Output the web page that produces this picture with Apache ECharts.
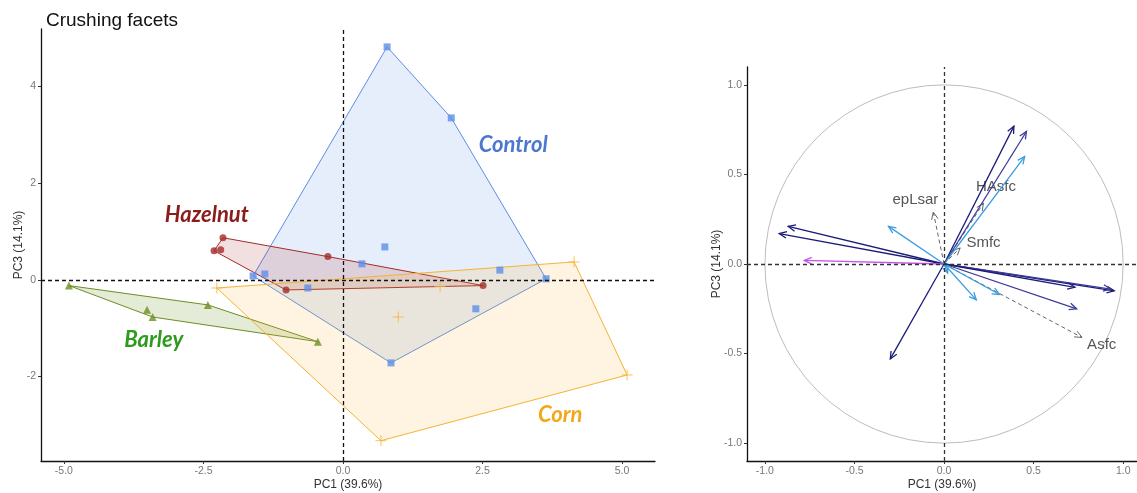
<!DOCTYPE html>
<html>
<head>
<meta charset="utf-8">
<script src="https://cdn.jsdelivr.net/npm/echarts@6/dist/echarts.min.js"></script>
<style>
html,body{margin:0;padding:0;background:#fff;}
#main{width:1137px;height:493px;}
</style>
</head>
<body>
<div id="main"></div>
<script>
'use strict';
// individuals, [PC1, PC3]
var controlPts = [[0.79,4.82],[1.94,3.35],[0.75,0.68],[0.34,0.33],[-1.61,0.08],[-1.40,0.12],[-0.63,-0.17],[2.81,0.20],[2.38,-0.60],[3.64,0.02],[0.86,-1.72]];
var hazelnutPts = [[-2.15,0.87],[-2.31,0.60],[-2.19,0.62],[-0.27,0.48],[-1.02,-0.21],[2.51,-0.12]];
var barleyPts = [[-4.91,-0.12],[-3.51,-0.62],[-3.41,-0.77],[-2.42,-0.52],[-0.45,-1.28]];
var cornPts = [[-2.26,-0.17],[4.14,0.37],[5.09,-1.97],[0.68,-3.33],[1.74,-0.14],[0.99,-0.77]];
var groupNames = ['Control','Hazelnut','Barley','Corn'];
var groupLabelPos = [[3.05,2.80],[-2.44,1.35],[-3.39,-1.24],[3.89,-2.80]];

// variables (correlation circle)
var varPC1 = [-0.87,-0.92,0.39,0.46,0.95,0.93,0.73,0.74,-0.30,0.45,-0.31,0.18,0.31,0.02,-0.78];
var varPC3 = [0.21,0.17,0.77,0.74,-0.15,-0.14,-0.13,-0.25,-0.53,0.60,0.21,-0.20,-0.17,-0.05,0.02];
var varKind = [0,0,0,1,0,1,0,1,0,2,2,2,2,2,3];
// supplementary variables (dashed)
var supNames = ['epLsar','HAsfc','Smfc','Asfc'];
var supPC1 = [-0.06,0.22,0.09,0.77];
var supPC3 = [0.29,0.34,0.09,-0.41];
var supLabelPC1 = [-0.16,0.29,0.22,0.88];
var supLabelPC3 = [0.36,0.43,0.12,-0.45];

var leftXTicks = [-5,-2.5,0,2.5,5];
var leftYTicks = [-2,0,2,4];
var rightTicks = [-1,-0.5,0,0.5,1];

var groupColors = ['#5b8ee6','#a52a2a','#6b8e23','#f5b335'];
var groupFills = ['rgba(91,142,230,0.15)','rgba(165,42,42,0.15)','rgba(107,142,35,0.18)','rgba(245,179,53,0.15)'];
var labelColors = ['#4a78d0','#8c1c1c','#2e9b1e','#f0a818'];
var kindColors = ['#1c1c78','#3c3c98','#3a9de0','#c452ec'];
var plusPath = 'path://M5,0L5,10M0,5L10,5';

function hull(pts) {
    var p = pts.slice().sort(function (a, b) { return a[0] - b[0] || a[1] - b[1]; });
    function cross(o, a, b) { return (a[0] - o[0]) * (b[1] - o[1]) - (a[1] - o[1]) * (b[0] - o[0]); }
    var lower = [], upper = [];
    p.forEach(function (q) {
        while (lower.length >= 2 && cross(lower[lower.length - 2], lower[lower.length - 1], q) <= 0) lower.pop();
        lower.push(q);
    });
    p.slice().reverse().forEach(function (q) {
        while (upper.length >= 2 && cross(upper[upper.length - 2], upper[upper.length - 1], q) <= 0) upper.pop();
        upper.push(q);
    });
    upper.pop(); lower.pop();
    return lower.concat(upper);
}

var groups = [controlPts, hazelnutPts, barleyPts, cornPts];
var symbols = ['rect','circle','triangle',plusPath];
var symbolSizes = [7,7,8,11];

var series = [];
// hulls
groups.forEach(function (pts, gi) {
    var h = hull(pts);
    series.push({
        type: 'custom', xAxisIndex: 0, yAxisIndex: 0, z: 1, silent: true,
        data: [0],
        renderItem: function (params, api) {
            return {
                type: 'polygon',
                shape: { points: h.map(function (q) { return api.coord(q); }) },
                style: { fill: groupFills[gi], stroke: groupColors[gi], lineWidth: 1 }
            };
        }
    });
});
// points
groups.forEach(function (pts, gi) {
    series.push({
        type: 'scatter', xAxisIndex: 0, yAxisIndex: 0, z: 3,
        symbol: symbols[gi], symbolSize: symbolSizes[gi],
        itemStyle: gi === 3 ? { color: 'rgba(0,0,0,0)', borderColor: groupColors[gi], borderWidth: 1 } : { color: groupColors[gi] },
        data: pts,
        markLine: gi === 0 ? {
            silent: true, symbol: 'none', label: { show: false },
            lineStyle: { color: '#111', type: [4, 3], width: 1.3 },
            data: [{ xAxis: 0 }, { yAxis: 0 }]
        } : undefined
    });
});
// group names
series.push({
    type: 'custom', xAxisIndex: 0, yAxisIndex: 0, z: 4, silent: true,
    data: groupLabelPos.map(function (p, i) { return [p[0], p[1], i]; }),
    renderItem: function (params, api) {
        var c = api.coord([api.value(0), api.value(1)]);
        var i = api.value(2);
        return {
            type: 'text', x: c[0], y: c[1],
            style: { text: groupNames[i], fill: labelColors[i], font: 'italic bold 22px Lato', align: 'center', verticalAlign: 'middle' }
        };
    }
});

// right panel
function arrowShape(api, x, y, color, dashed) {
    var p0 = api.coord([0, 0]);
    var p1 = api.coord([x, y]);
    var a = Math.atan2(p1[1] - p0[1], p1[0] - p0[0]);
    var len = 8, sp = 0.42;
    var h1 = [p1[0] - len * Math.cos(a - sp), p1[1] - len * Math.sin(a - sp)];
    var h2 = [p1[0] - len * Math.cos(a + sp), p1[1] - len * Math.sin(a + sp)];
    var st = { stroke: color, lineWidth: dashed ? 1 : 1.3, fill: null };
    var lst = { stroke: color, lineWidth: dashed ? 1 : 1.3, lineDash: dashed ? [4, 3] : null };
    return [
        { type: 'line', shape: { x1: p0[0], y1: p0[1], x2: p1[0], y2: p1[1] }, style: lst },
        { type: 'polyline', shape: { points: [h1, p1, h2] }, style: st }
    ];
}

series.push({
    type: 'custom', xAxisIndex: 1, yAxisIndex: 1, z: 1, silent: true,
    data: [0],
    renderItem: function (params, api) {
        var c = api.coord([0, 0]);
        var s = api.size([1, 1]);
        return { type: 'circle', shape: { cx: c[0], cy: c[1], r: (s[0] + s[1]) / 2 }, style: { fill: null, stroke: '#bdbdbd', lineWidth: 1 } };
    }
});
series.push({
    type: 'scatter', xAxisIndex: 1, yAxisIndex: 1, symbolSize: 0, data: [],
    markLine: {
        silent: true, symbol: 'none', label: { show: false },
        lineStyle: { color: '#333', type: [4, 3], width: 1.3 },
        data: [{ xAxis: 0 }, { yAxis: 0 }]
    }
});
series.push({
    type: 'custom', xAxisIndex: 1, yAxisIndex: 1, z: 3, silent: true,
    data: supPC1.map(function (v, i) { return [v, supPC3[i], i]; }),
    renderItem: function (params, api) {
        var i = api.value(2);
        var kids = arrowShape(api, api.value(0), api.value(1), '#666', true);
        var c = api.coord([supLabelPC1[i], supLabelPC3[i]]);
        kids.push({ type: 'text', x: c[0], y: c[1], style: { text: supNames[i], fill: '#555', font: '15px "Liberation Sans"', align: 'center', verticalAlign: 'middle' } });
        return { type: 'group', children: kids };
    }
});
series.push({
    type: 'custom', xAxisIndex: 1, yAxisIndex: 1, z: 4, silent: true,
    data: varPC1.map(function (v, i) { return [v, varPC3[i], varKind[i]]; }),
    renderItem: function (params, api) {
        return { type: 'group', children: arrowShape(api, api.value(0), api.value(1), kindColors[api.value(2)], false) };
    }
});

function axisCommon(ticks, fmt) {
    return {
        nameMoveOverlap: false,
        axisLine: { show: true, onZero: false, lineStyle: { color: '#111', width: 1.3 } },
        axisTick: { show: true, length: 3, customValues: ticks, lineStyle: { color: '#333' } },
        axisLabel: { customValues: ticks, color: '#777', fontSize: 10.5, fontFamily: 'Liberation Sans', formatter: fmt, margin: 5 },
        splitLine: { show: false }
    };
}
function fix1(v) { return v.toFixed(1); }
function int0(v) { return String(Math.round(v)); }
var nameStyle = { color: '#333', fontSize: 12, fontFamily: 'Liberation Sans' };

var xL = axisCommon(leftXTicks, fix1);
Object.assign(xL, { type: 'value', gridIndex: 0, min: -5.41, max: 5.59, name: 'PC1 (39.6%)', nameLocation: 'middle', nameGap: 18, nameTextStyle: nameStyle });
var yL = axisCommon(leftYTicks, int0);
Object.assign(yL, { type: 'value', gridIndex: 0, min: -3.75, max: 5.19, name: 'PC3 (14.1%)', nameLocation: 'middle', nameGap: 16, nameTextStyle: nameStyle });
var xR = axisCommon(rightTicks, fix1);
Object.assign(xR, { type: 'value', gridIndex: 1, min: -1.1, max: 1.077, name: 'PC1 (39.6%)', nameLocation: 'middle', nameGap: 18, nameTextStyle: nameStyle });
var yR = axisCommon(rightTicks, fix1);
Object.assign(yR, { type: 'value', gridIndex: 1, min: -1.1, max: 1.1, name: 'PC3 (14.1%)', nameLocation: 'middle', nameGap: 24, nameTextStyle: nameStyle });

var myChart = echarts.init(document.getElementById('main'), null, { renderer: 'canvas' });
myChart.setOption({
    animation: false,
    backgroundColor: '#fff',
    title: { text: 'Crushing facets', left: 41, top: 6, textStyle: { color: '#111', fontSize: 19, fontWeight: 'normal', fontFamily: 'Liberation Sans' } },
    grid: [
        { left: 41, right: 482, top: 29, bottom: 32, outerBoundsMode: 'none', containLabel: false },
        { left: 747, right: 0, top: 67, bottom: 32, outerBoundsMode: 'none', containLabel: false }
    ],
    xAxis: [xL, xR],
    yAxis: [yL, yR],
    series: series
});
</script>
</body>
</html>
